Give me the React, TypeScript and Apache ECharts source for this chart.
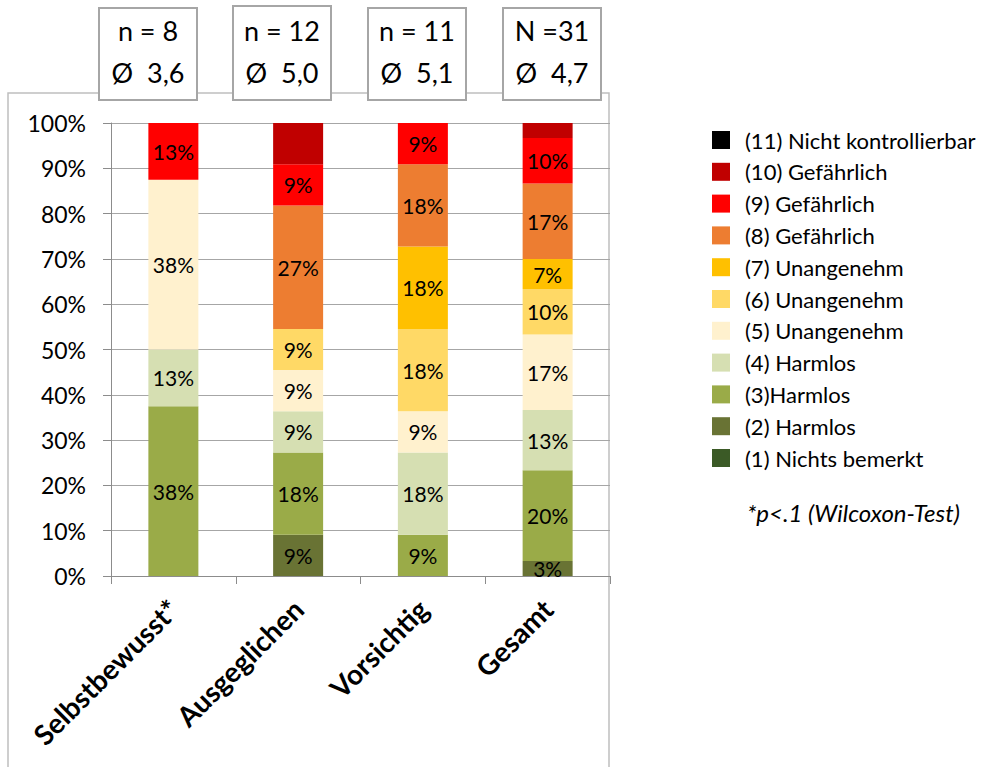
import React, { useEffect, useRef } from "react";
import * as echarts from "echarts";

// Groups on the x axis
const categories = ["Selbstbewusst*", "Ausgeglichen", "Vorsichtig", "Gesamt"];

// Share of answers per rating level (percent) for each group
const level1 = [0, 0, 0, 0];
const level2 = [0, 9.09, 0, 3.33];
const level3 = [37.5, 18.18, 9.09, 20.0];
const level4 = [12.5, 9.09, 18.18, 13.33];
const level5 = [37.5, 9.09, 9.09, 16.67];
const level6 = [0, 9.09, 18.18, 10.0];
const level7 = [0, 0, 18.18, 6.67];
const level8 = [0, 27.27, 18.18, 16.67];
const level9 = [12.5, 9.09, 9.09, 10.0];
const level10 = [0, 9.09, 0, 3.33];
const level11 = [0, 0, 0, 0];

const levelNames = [
  "(1) Nichts bemerkt",
  "(2) Harmlos",
  "(3)Harmlos",
  "(4) Harmlos",
  "(5) Unangenehm",
  "(6) Unangenehm",
  "(7) Unangenehm",
  "(8) Gefährlich",
  "(9) Gefährlich",
  "(10) Gefährlich",
  "(11) Nicht kontrollierbar",
];

const levelColors = [
  "#3B5A26",
  "#697334",
  "#9AAB48",
  "#D6DFB2",
  "#FFF1CE",
  "#FFD966",
  "#FFC000",
  "#ED7D31",
  "#FF0000",
  "#C00000",
  "#000000",
];

// Sample size and mean rating shown above each group
const groupSizes = ["n = 8", "n = 12", "n = 11", "N =31"];
const groupMeans = ["Ø  3,6", "Ø  5,0", "Ø  5,1", "Ø  4,7"];

const yTicks = [0, 10, 20, 30, 40, 50, 60, 70, 80, 90, 100];

const FONT = "Lato, 'Liberation Sans', sans-serif";

export default function App() {
  const ref = useRef<HTMLDivElement>(null);

  useEffect(() => {
    if (!ref.current) return;
    const chart = echarts.init(ref.current, undefined, { renderer: "svg" });

    const levels = [
      level1, level2, level3, level4, level5, level6,
      level7, level8, level9, level10, level11,
    ];

    const series = levels.map((vals, i) => ({
      name: levelNames[i],
      type: "bar" as const,
      stack: "total",
      barWidth: 50,
      data: vals,
      itemStyle: { color: levelColors[i] },
      label: {
        show: i !== 9,
        position: "inside" as const,
        color: "#000",
        fontSize: 21,
        fontFamily: FONT,
        formatter: (p: any) => (p.value > 0 ? Math.round(p.value) + "%" : ""),
      },
    }));

    const boxLefts = [99, 233, 368, 503];
    const boxTops = [8, 6, 8, 8];
    const boxes = groupSizes.map((s, i) => ({
      type: "group" as const,
      x: boxLefts[i],
      y: boxTops[i],
      z: 20,
      children: [
        {
          type: "rect" as const,
          shape: { x: 0, y: 0, width: 98, height: 92 - (boxTops[i] - 8) },
          style: { fill: "#fff", stroke: "#a6a6a6", lineWidth: 2 },
        },
        {
          type: "text" as const,
          x: 49,
          y: 22 - (boxTops[i] - 8),
          style: {
            text: s,
            fontSize: 27,
            fontFamily: FONT,
            fill: "#000",
            align: "center",
            verticalAlign: "middle",
          },
        },
        {
          type: "text" as const,
          x: 49,
          y: 64 - (boxTops[i] - 8),
          style: {
            text: groupMeans[i],
            fontSize: 27,
            fontFamily: FONT,
            fill: "#000",
            align: "center",
            verticalAlign: "middle",
          },
        },
      ],
    }));

    chart.setOption({
      animation: false,
      backgroundColor: "#fff",
      grid: { left: 111, right: 373, top: 123, bottom: 191 },
      xAxis: {
        type: "category",
        data: categories,
        axisLine: { lineStyle: { color: "#8c8c8c", width: 1 } },
        axisTick: { show: true, length: 8, lineStyle: { color: "#8c8c8c" } },
        axisLabel: {
          rotate: 45,
          margin: 28,
          color: "#000",
          fontSize: 28,
          fontWeight: "bold",
          fontFamily: FONT,
        },
      },
      yAxis: {
        type: "value",
        min: 0,
        max: 100,
        interval: 10,
        axisLine: { show: true, lineStyle: { color: "#8c8c8c", width: 1 } },
        axisTick: { show: true, length: 8, lineStyle: { color: "#8c8c8c" } },
        splitLine: { show: true, lineStyle: { color: "#a6a6a6", width: 1 } },
        axisLabel: {
          margin: 25,
          color: "#000",
          fontSize: 23,
          fontFamily: FONT,
          formatter: (v: number) => (yTicks.includes(v) ? v + "%" : ""),
        },
      },
      legend: {
        orient: "vertical",
        left: 707,
        top: 124,
        itemWidth: 18,
        itemHeight: 18,
        itemGap: 9.8,
        icon: "rect",
        data: [...levelNames].reverse(),
        textStyle: {
          color: "#000",
          fontSize: 22,
          fontFamily: FONT,
          lineHeight: 18,
          padding: [0, 0, 0, 10],
        },
      },
      graphic: [
        {
          type: "rect",
          z: 0,
          shape: { x: 8, y: 93, width: 601, height: 720 },
          style: { fill: "none", stroke: "#bfbfbf", lineWidth: 1.5 },
        },
        ...boxes,
        {
          type: "text",
          left: 747,
          top: 500,
          style: {
            text: "*p<.1 (Wilcoxon-Test)",
            fontSize: 24,
            fontStyle: "italic",
            fontFamily: FONT,
            fill: "#000",
          },
        },
      ],
      series,
    });

    return () => chart.dispose();
  }, []);

  return (
    <div
      ref={ref}
      style={{ position: "absolute", left: 0, top: 0, width: 983, height: 767 }}
    />
  );
}
